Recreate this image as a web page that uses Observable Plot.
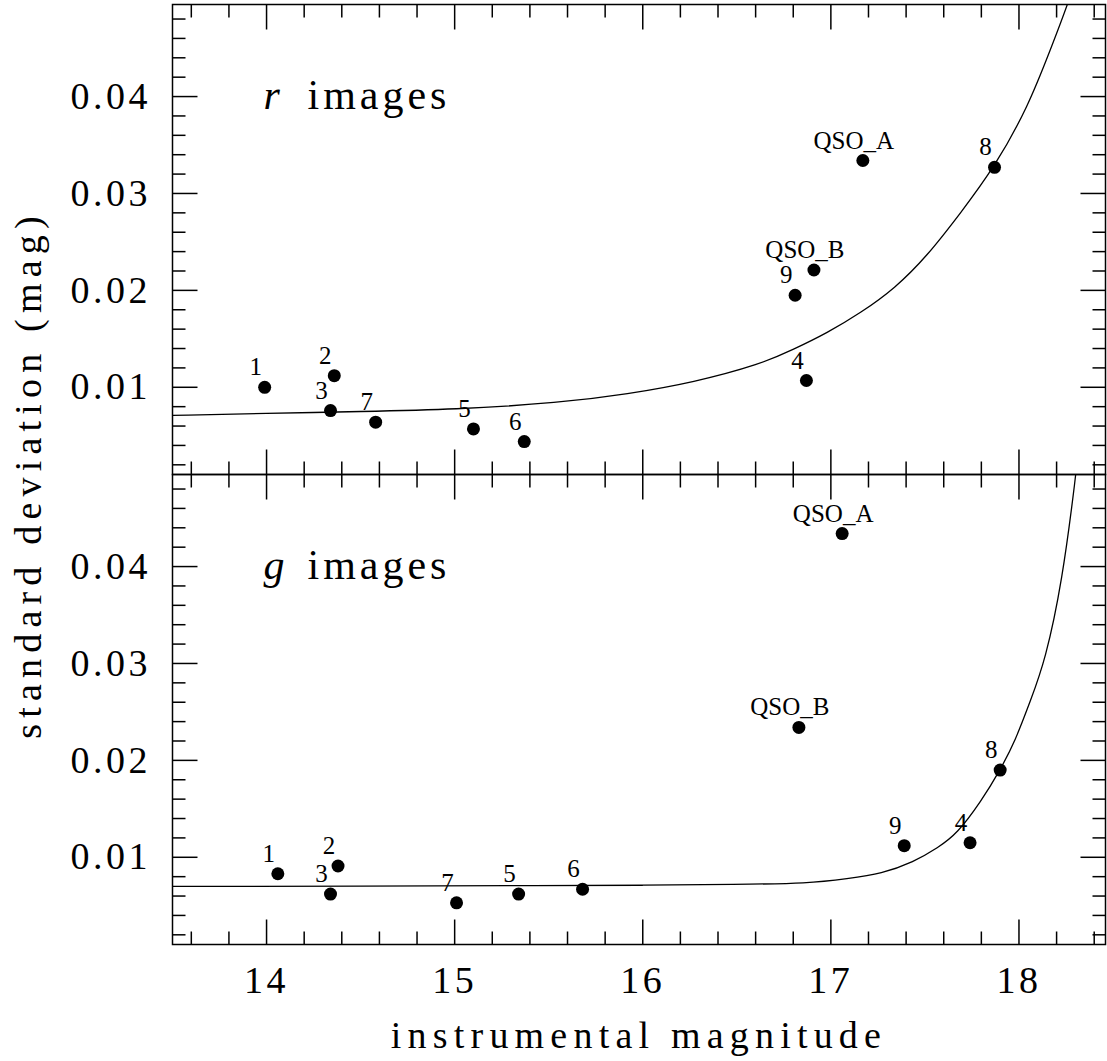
<!DOCTYPE html>
<html>
<head>
<meta charset="utf-8">
<script src="https://cdn.jsdelivr.net/npm/d3@7"></script>
<script src="https://cdn.jsdelivr.net/npm/@observablehq/plot@0.6"></script>
<style>
  html, body { margin: 0; padding: 0; background: white; }
  g[aria-label="x-axis tick label"] text, g[aria-label="y-axis tick label"] text { letter-spacing: 3.5px; }
</style>
</head>
<body>
<div id="chart"></div>
<script>
// ---- data: r images (top panel) ----
const rLabels = ["1", "2", "3", "7", "5", "6", "4", "9", "QSO_B", "QSO_A", "8"];
const rMag    = [13.99, 14.36, 14.34, 14.58, 15.10, 15.37, 16.87, 16.81, 16.91, 17.17, 17.87];
const rSigma  = [0.0100, 0.0112, 0.0076, 0.0064, 0.0057, 0.0044, 0.0107, 0.0195, 0.0221, 0.0334, 0.0327];

// ---- data: g images (bottom panel) ----
const gLabels = ["1", "2", "3", "7", "5", "6", "9", "4", "8", "QSO_B", "QSO_A"];
const gMag    = [14.06, 14.38, 14.34, 15.01, 15.34, 15.68, 17.39, 17.74, 17.90, 16.83, 17.06];
const gSigma  = [0.0083, 0.0091, 0.0062, 0.0053, 0.0062, 0.0067, 0.0112, 0.0115, 0.0190, 0.0234, 0.0434];

// ---- fitted curves ----
const rCurveMag   = [13.5, 14.0, 14.5, 15.0, 15.56, 15.92, 16.27, 16.63, 16.80, 16.98, 17.16, 17.34, 17.51, 17.69, 17.87, 18.05, 18.17, 18.26, 18.35];
const rCurveSigma = [0.0071, 0.0073, 0.0075, 0.0077, 0.0084, 0.0093, 0.0105, 0.0124, 0.0139, 0.0156, 0.0177, 0.0202, 0.0235, 0.0280, 0.0327, 0.0390, 0.0450, 0.0495, 0.0550];
const gCurveMag   = [13.5, 14.5, 15.5, 16.0, 16.5, 16.88, 17.09, 17.27, 17.44, 17.57, 17.67, 17.80, 17.90, 17.98, 18.06, 18.14, 18.23, 18.30, 18.34];
const gCurveSigma = [0.0070, 0.0070, 0.0071, 0.0071, 0.0072, 0.0073, 0.0078, 0.0083, 0.0095, 0.0110, 0.0124, 0.0158, 0.0190, 0.0220, 0.0261, 0.0303, 0.0385, 0.0490, 0.0560];

// ---- ticks ----
const xMajor = [14, 15, 16, 17, 18];
const xMinor = [13.6, 13.8, 14.2, 14.4, 14.6, 14.8, 15.2, 15.4, 15.6, 15.8, 16.2, 16.4, 16.6, 16.8, 17.2, 17.4, 17.6, 17.8, 18.2, 18.4];
const yMajor = [0.01, 0.02, 0.03, 0.04];
const yMinor = [0.002, 0.004, 0.006, 0.008, 0.012, 0.014, 0.016, 0.018, 0.022, 0.024, 0.026, 0.028, 0.032, 0.034, 0.036, 0.038, 0.042, 0.044, 0.046, 0.048];

const panels = ["r", "g"];
const panelTitles = ["r", "g"];
const xTitle = "instrumental magnitude";
const yTitle = "standard deviation (mag)";

// ---- build tables ----
const points = [
  ...rLabels.map((l, i) => ({panel: "r", label: l, mag: rMag[i], sigma: rSigma[i]})),
  ...gLabels.map((l, i) => ({panel: "g", label: l, mag: gMag[i], sigma: gSigma[i]}))
];
const curves = [
  ...rCurveMag.map((m, i) => ({panel: "r", mag: m, sigma: rCurveSigma[i]})),
  ...gCurveMag.map((m, i) => ({panel: "g", mag: m, sigma: gCurveSigma[i]}))
];
const titles = panels.map((p, i) => ({panel: p, letter: panelTitles[i]}));

const font = "Liberation Serif, Times New Roman, serif";
const tickStyle = {stroke: "black", strokeWidth: 1.5, r: 0, anchor: "start", strokeLinecap: "butt"};

const chart = Plot.plot({
  width: 1107,
  height: 1061,
  marginLeft: 172,
  marginRight: 2,
  marginTop: 3,
  marginBottom: 117,
  style: {fontFamily: font, background: "white", color: "black", overflow: "visible"},
  x: {domain: [13.5, 18.46]},
  y: {domain: [0.001, 0.0495]},
  fy: {domain: panels, padding: 0, axis: null},
  marks: [
    // inward ticks
    Plot.vector(xMajor, {x: d => d, frameAnchor: "bottom", rotate: 0, length: 25, ...tickStyle}),
    Plot.vector(xMinor, {x: d => d, frameAnchor: "bottom", rotate: 0, length: 13, ...tickStyle}),
    Plot.vector(xMajor, {x: d => d, frameAnchor: "top", rotate: 180, length: 25, ...tickStyle}),
    Plot.vector(xMinor, {x: d => d, frameAnchor: "top", rotate: 180, length: 13, ...tickStyle}),
    Plot.vector(yMajor, {y: d => d, frameAnchor: "left", rotate: 90, length: 25, ...tickStyle}),
    Plot.vector(yMinor, {y: d => d, frameAnchor: "left", rotate: 90, length: 13, ...tickStyle}),
    Plot.vector(yMajor, {y: d => d, frameAnchor: "right", rotate: -90, length: 25, ...tickStyle}),
    Plot.vector(yMinor, {y: d => d, frameAnchor: "right", rotate: -90, length: 13, ...tickStyle}),
    Plot.frame({stroke: "black", strokeWidth: 1.5}),
    Plot.axisX({ticks: xMajor, tickSize: 0, tickPadding: 22, fontSize: 38, label: null, tickFormat: d3.format("d")}),
    Plot.axisY({ticks: yMajor, tickSize: 0, tickPadding: 21.5, fontSize: 38, label: null, tickFormat: d3.format(".2f")}),
    Plot.line(curves, {x: "mag", y: "sigma", fy: "panel", curve: "basis", clip: true, stroke: "black", strokeWidth: 1.3}),
    Plot.dot(points, {x: "mag", y: "sigma", fy: "panel", r: 6.5, fill: "black"}),
    Plot.text(points, {x: "mag", y: "sigma", fy: "panel", text: "label", dx: -9, dy: -20, fontSize: 25, fill: "black"}),
    // panel titles
    Plot.text(titles, {fy: "panel", text: "letter", frameAnchor: "top-left", dx: 91, dy: 104, lineAnchor: "bottom", textAnchor: "start", fontSize: 42, fontStyle: "italic", fill: "black"}),
    Plot.text(titles, {fy: "panel", text: d => "images", frameAnchor: "top-left", dx: 135, dy: 104, lineAnchor: "bottom", textAnchor: "start", fontSize: 42, fill: "black"}),
    // axis titles
    Plot.text([titles[0]], {fy: "panel", text: d => yTitle, frameAnchor: "bottom-left", dx: -144, dy: 0, rotate: -90, textAnchor: "middle", lineAnchor: "middle", fontSize: 38, fill: "black"}),
    Plot.text([titles[1]], {fy: "panel", text: d => xTitle, frameAnchor: "bottom", dy: 103, lineAnchor: "bottom", textAnchor: "middle", fontSize: 38, fill: "black"})
  ]
});

// letter spacing to mimic the wider original typeface
d3.select(chart).selectAll("text").each(function () {
  const t = this.textContent;
  if (t === xTitle || t === yTitle) d3.select(this).attr("letter-spacing", 6.2);
  else if (t === "images") d3.select(this).attr("letter-spacing", 4);
});

document.getElementById("chart").appendChild(chart);
</script>
</body>
</html>
